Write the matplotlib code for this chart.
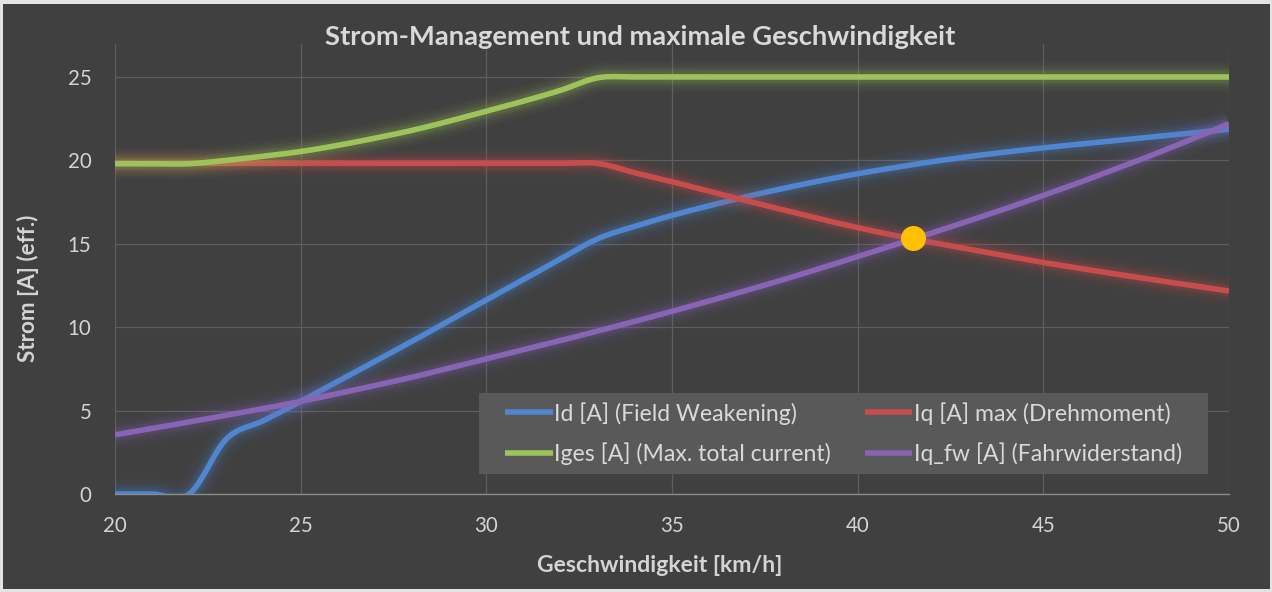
import numpy as np
import matplotlib
matplotlib.use("Agg")
import matplotlib.pyplot as plt
from matplotlib.patches import Rectangle

plt.rcParams['font.family'] = ['Lato', 'DejaVu Sans']

# ---------------- data ----------------
speed = [20, 21, 22, 23, 24, 25, 26, 27, 28, 29, 30, 31, 32, 33, 34, 35,
         36, 37, 38, 39, 40, 41, 42, 43, 44, 45, 46, 47, 48, 49, 50]

id_fw = [0, 0, 0, 3.3, 4.4, 5.55, 6.75, 7.95, 9.15, 10.4, 11.63, 12.85, 14.1,
         15.3, 16.05, 16.7, 17.28, 17.82, 18.32, 18.78, 19.2, 19.57, 19.92,
         20.23, 20.5, 20.75, 20.98, 21.2, 21.42, 21.64, 21.86]

iq_max = [19.82, 19.82, 19.82, 19.82, 19.82, 19.82, 19.82, 19.82, 19.82, 19.82,
          19.82, 19.82, 19.82, 19.82, 19.25, 18.72, 18.15, 17.58, 17.03, 16.48,
          15.97, 15.5, 15.08, 14.68, 14.27, 13.88, 13.52, 13.17, 12.83, 12.5,
          12.17]

iges = [19.8, 19.8, 19.8, 20.0, 20.25, 20.53, 20.9, 21.33, 21.8, 22.35, 22.95,
        23.55, 24.2, 24.95, 25.0, 25.0, 25.0, 25.0, 25.0, 25.0, 25.0, 25.0,
        25.0, 25.0, 25.0, 25.0, 25.0, 25.0, 25.0, 25.0, 25.0]

iq_fw = [3.55, 3.93, 4.32, 4.72, 5.12, 5.55, 6.02, 6.5, 7.0, 7.55, 8.1, 8.65,
         9.2, 9.77, 10.35, 10.95, 11.57, 12.2, 12.85, 13.53, 14.23, 14.93,
         15.65, 16.38, 17.12, 17.9, 18.7, 19.53, 20.38, 21.27, 22.2]

labels = ["Id [A] (Field Weakening)", "Iq [A] max (Drehmoment)",
          "Iges [A] (Max. total current)", "Iq_fw [A] (Fahrwiderstand)"]
colors = ["#4F86CF", "#C84C4C", "#9DC45A", "#8764B4"]

point_x = [41.5]
point_y = [15.33]

x_ticks = [20, 25, 30, 35, 40, 45, 50]
y_ticks = [0, 5, 10, 15, 20, 25]

title = "Strom-Management und maximale Geschwindigkeit"
xlabel = "Geschwindigkeit [km/h]"
ylabel = "Strom [A] (eff.)"


def smooth(xs, ys, n=16):
    """Excel-like smoothed line (Catmull-Rom Bezier) through the data points."""
    pts = np.column_stack([xs, ys]).astype(float)
    P = np.vstack([pts[0], pts, pts[-1]])
    out = []
    t = np.linspace(0, 1, n, endpoint=False)[:, None]
    for i in range(1, len(P) - 2):
        p0, p1, p2, p3 = P[i - 1], P[i], P[i + 1], P[i + 2]
        c1 = p1 + (p2 - p0) / 6.0
        c2 = p2 - (p3 - p1) / 6.0
        seg = ((1 - t) ** 3) * p1 + 3 * ((1 - t) ** 2) * t * c1 + \
            3 * (1 - t) * t ** 2 * c2 + t ** 3 * p2
        out.append(seg)
    out.append(pts[-1:])
    s = np.vstack(out)
    return s[:, 0], s[:, 1]


W, H = 1272, 592
fig = plt.figure(figsize=(W / 100, H / 100), dpi=100)
fig.patch.set_facecolor("#E3E3E3")
bg = Rectangle((3 / W, 3 / H), (W - 5) / W, (H - 7) / H,
               transform=fig.transFigure, facecolor="#404040",
               edgecolor="none", zorder=-10)
fig.add_artist(bg)

ax = fig.add_axes([115 / W, 1 - 494 / H, (1229 - 115) / W, (494 - 43.6) / H])
ax.set_zorder(1)
ax.patch.set_visible(False)

series = [id_fw, iq_max, iges, iq_fw]
handles = []
for k, (ys, c, lab) in enumerate(zip(series, colors, labels)):
    sx, sy = smooth(speed, ys)
    z = 3 + k
    for lw, a in [(22, 0.035), (18, 0.045), (14.5, 0.06), (11, 0.085),
                  (8, 0.11)]:
        ax.plot(sx, sy, color=c, lw=lw, alpha=a, solid_capstyle="butt",
                solid_joinstyle="round", zorder=z)
    h, = ax.plot(sx, sy, color=c, lw=4.0, solid_capstyle="butt",
                 solid_joinstyle="round", zorder=z + 0.5, label=lab)
    handles.append(h)

ax.plot(point_x, point_y, "o", color="#FFC000", markersize=18,
        markeredgewidth=0, zorder=10)

ax.set_xlim(20, 50)
ax.set_ylim(0, 27)
ax.set_xticks(x_ticks)
ax.set_yticks(y_ticks)
ax.grid(True, color="#5E5E5E", lw=0.9, zorder=1)
ax.set_axisbelow(True)
for sp in ["top", "right", "left"]:
    ax.spines[sp].set_visible(False)
ax.spines["bottom"].set_color("#8A8A8A")
ax.spines["bottom"].set_linewidth(1.0)
ax.spines["bottom"].set_zorder(2)
ax.tick_params(axis="both", length=0, labelsize=14.8, colors="#D4D4D4")
ax.tick_params(axis="y", pad=17)
ax.tick_params(axis="x", pad=16)

# legend background box
lb = Rectangle((0.327, 0.0444), 0.654, 0.1798, transform=ax.transAxes,
               facecolor="#595959", edgecolor="none", zorder=19)
ax.add_patch(lb)
leg = ax.legend([handles[0], handles[2], handles[1], handles[3]],
                [labels[0], labels[2], labels[1], labels[3]],
                ncol=2, loc="center", bbox_to_anchor=(0.654, 0.1343),
                borderaxespad=0, fontsize=16.6, frameon=False,
                handlelength=2.05, handletextpad=0.05, labelspacing=0.78,
                columnspacing=1.5, borderpad=0.2)
for t in leg.get_texts():
    t.set_color("#D9D9D9")
for lh in leg.get_lines():
    lh.set_linewidth(4.0)
leg.set_zorder(20)

fig.text(640 / W, 1 - 37 / H, title, ha="center", va="center",
         fontsize=19.7, fontweight="bold", color="#D9D9D9")
fig.text(660 / W, 1 - 566 / H, xlabel, ha="center", va="center",
         fontsize=16.6, fontweight="bold", color="#D4D4D4")
fig.text(28 / W, 1 - 288 / H, ylabel, ha="center", va="center",
         rotation=90, fontsize=16.2, fontweight="bold", color="#D4D4D4")

fig.savefig("out.png", dpi=100, facecolor=fig.get_facecolor())
